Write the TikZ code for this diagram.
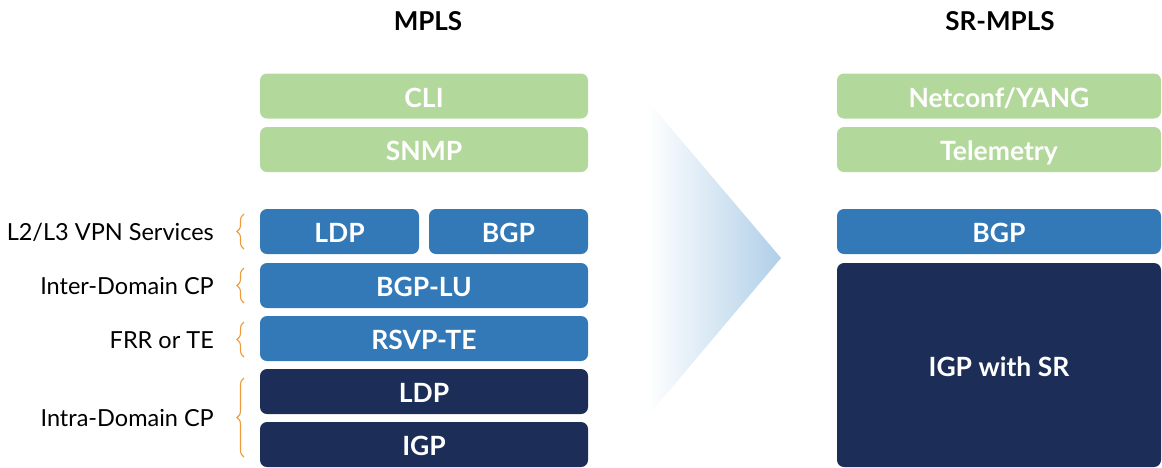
\documentclass[tikz,border=0pt]{standalone}
\usepackage{fontspec}
\setmainfont{Lato}
\usetikzlibrary{decorations.pathreplacing}
\definecolor{mgreen}{HTML}{B3D89B}
\definecolor{mblue}{HTML}{3479B7}
\definecolor{mnavy}{HTML}{1C2E57}
\definecolor{arrowblue}{HTML}{B0CFE8}
\definecolor{braceorange}{HTML}{EE9B3C}
\begin{document}
\begin{tikzpicture}[x=1pt,y=-1pt,
  layer/.style={rounded corners=7pt, inner sep=0pt, text=white,
    font=\fontsize{26.5}{30}\selectfont\bfseries, minimum height=45pt,
    text height=22.5pt, text depth=0pt},
  greenbox/.style={layer, fill=mgreen},
  bluebox/.style={layer, fill=mblue},
  navybox/.style={layer, fill=mnavy},
  title/.style={font=\fontsize{26}{30}\selectfont\bfseries, text=black},
  sidelabel/.style={font=\fontsize{23.5}{27}\selectfont, text=black, anchor=east, inner sep=0pt},
  bracemark/.style={decorate, decoration={brace, amplitude=7pt}, draw=braceorange, line width=1.1pt}
]
\useasboundingbox (0,0) rectangle (1162,467);

% titles
\node[title] (t1) at (428,21.5) {MPLS};
\node[title] (t2) at (1000,21.5) {SR-MPLS};

% gradient arrow
\shade[left color=white, right color=arrowblue] (647,100) -- (781,258) -- (647,417) -- cycle;

% left stack
\node[greenbox, minimum width=328pt] (cli) at (424,96) {CLI};
\node[greenbox, minimum width=328pt] (snmp) at (424,149.5) {SNMP};
\node[bluebox, minimum width=159pt] (ldp1) at (339.5,231.5) {LDP};
\node[bluebox, minimum width=159pt] (bgp1) at (508.5,231.5) {BGP};
\node[bluebox, minimum width=328pt] (bgplu) at (424,285.5) {BGP-LU};
\node[bluebox, minimum width=328pt] (rsvp) at (424,338.5) {RSVP-TE};
\node[navybox, minimum width=328pt] (ldp2) at (424,391.5) {LDP};
\node[navybox, minimum width=328pt] (igp) at (424,444.5) {IGP};

% right stack
\node[greenbox, minimum width=324pt] (netconf) at (999,96) {Netconf/YANG};
\node[greenbox, minimum width=324pt] (telem) at (999,149.5) {Telemetry};
\node[bluebox, minimum width=324pt] (bgp2) at (999,231.5) {BGP};
\node[navybox, minimum width=324pt, minimum height=204pt] (igpsr) at (999,365) {IGP with SR};

% side labels
\node[sidelabel] (l1) at (214,232) {L2/L3 VPN Services};
\node[sidelabel] (l2) at (214,286) {Inter-Domain CP};
\node[sidelabel] (l3) at (214,340) {FRR or TE};
\node[sidelabel] (l4) at (214,418) {Intra-Domain CP};

% braces
\coordinate (b1a) at (244,249); \coordinate (b1b) at (244,214);
\coordinate (b2a) at (244,303); \coordinate (b2b) at (244,268);
\coordinate (b3a) at (244,357); \coordinate (b3b) at (244,322);
\coordinate (b4a) at (244,457); \coordinate (b4b) at (244,378);
\draw[bracemark] (b1a) -- (b1b);
\draw[bracemark] (b2a) -- (b2b);
\draw[bracemark] (b3a) -- (b3b);
\draw[bracemark] (b4a) -- (b4b);
\end{tikzpicture}
\end{document}
